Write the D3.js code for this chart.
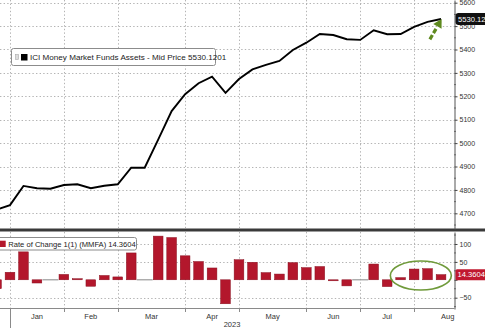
<!DOCTYPE html>
<html>
<head>
<meta charset="utf-8">
<script src="https://cdn.jsdelivr.net/npm/d3@7"></script>
<style>
  html, body { margin: 0; padding: 0; background: #fff; overflow: hidden; }
  svg { display: block; font-family: "Liberation Sans", Arial, sans-serif; }
</style>
</head>
<body>
<svg id="chart" width="485" height="328"></svg>
<script>
// Weekly observation dates (Wednesdays)
const weeks = [
  "2022-12-28",
  "2023-01-04","2023-01-11","2023-01-18","2023-01-25",
  "2023-02-01","2023-02-08","2023-02-15","2023-02-22",
  "2023-03-01","2023-03-08","2023-03-15","2023-03-22","2023-03-29",
  "2023-04-05","2023-04-12","2023-04-19","2023-04-26",
  "2023-05-03","2023-05-10","2023-05-17","2023-05-24","2023-05-31",
  "2023-06-07","2023-06-14","2023-06-21","2023-06-28",
  "2023-07-05","2023-07-12","2023-07-19","2023-07-26",
  "2023-08-02","2023-08-09","2023-08-16"
];

// ICI money market fund assets, $bn
const assets = [
  4715,
  4735, 4817, 4807, 4805,
  4821, 4824, 4807, 4818,
  4824, 4895, 4895, 5015, 5137,
  5209, 5256, 5284, 5215,
  5274, 5315, 5334, 5351, 5398,
  5429, 5466, 5462, 5444,
  5441, 5482, 5465, 5466,
  5497, 5518, 5530.1201
];

// Week-over-week change, $bn
const rateOfChange = [
  -25,
  21, 78, -9, -1,
  15, 3, -18, 12,
  8, 75, 0.5, 122, 118,
  67, 51, 33, -67,
  56, 49, 20, 16, 48,
  34, 37, -2, -17,
  -1, 44, -19, 6,
  30, 31, 14.3604
];

const assetTicks = [4700, 4800, 4900, 5000, 5100, 5200, 5300, 5400, 5500, 5600];
const rocTicks = [-50, 0, 50, 100];
const monthLabels = ["Jan", "Feb", "Mar", "Apr", "May", "Jun", "Jul", "Aug"];
const yearLabel = "2023";
const seriesName = "ICI Money Market Funds Assets - Mid Price";
const rocName = "Rate of Change 1(1) (MMFA)";

const parse = d3.utcParse("%Y-%m-%d");
const dates = weeks.map(parse);
const lineData = dates.map((d, i) => ({ date: d, value: assets[i] }));
const barData = dates.map((d, i) => ({ date: d, value: rateOfChange[i] }));

const W = 485, H = 328;
const axisX = 454;
const svg = d3.select("#chart");

// Weekly points are evenly spaced along x
const x = d3.scaleUtc()
  .domain([dates[0], dates[dates.length - 1]])
  .range([-3.47, 441.04]);

const yTop = d3.scaleLinear().domain([4633, 5611.5]).range([229, 0]);
const yRoc = d3.scaleLinear().domain([-81.6, 133.5]).range([309, 232]);

// First observation of each month (Jan..Sep, Sep closes the Aug label span)
const monthStarts = d3.range(0, 9).map(m => d3.utcWednesday.ceil(new Date(Date.UTC(2023, m, 1))));

const gridColor = "#b4b4b4";
const gridDash = "1.4,2.2";

// ---------- horizontal grid ----------
svg.append("g").selectAll("line").data(assetTicks).join("line")
  .attr("x1", 0).attr("x2", axisX)
  .attr("y1", d => Math.round(yTop(d)) + 0.5).attr("y2", d => Math.round(yTop(d)) + 0.5)
  .attr("stroke", gridColor).attr("stroke-dasharray", gridDash);

svg.append("g").selectAll("line").data(rocTicks.filter(d => d !== 0)).join("line")
  .attr("x1", 0).attr("x2", axisX)
  .attr("y1", d => Math.round(yRoc(d)) + 0.5).attr("y2", d => Math.round(yRoc(d)) + 0.5)
  .attr("stroke", gridColor).attr("stroke-dasharray", gridDash);

// ---------- vertical month grid (both panels) ----------
const monthGrid = monthStarts.slice(0, 8);
svg.append("g").selectAll("line").data(monthGrid).join("line")
  .attr("x1", d => Math.round(x(d)) + 0.5).attr("x2", d => Math.round(x(d)) + 0.5)
  .attr("y1", 0).attr("y2", 228)
  .attr("stroke", gridColor).attr("stroke-dasharray", gridDash);
svg.append("g").selectAll("line").data(monthGrid).join("line")
  .attr("x1", d => Math.round(x(d)) + 0.5).attr("x2", d => Math.round(x(d)) + 0.5)
  .attr("y1", 232).attr("y2", 308)
  .attr("stroke", gridColor).attr("stroke-dasharray", gridDash);

// ---------- asset line ----------
svg.append("path")
  .datum(lineData)
  .attr("fill", "none")
  .attr("stroke", "#000")
  .attr("stroke-width", 1.9)
  .attr("stroke-linejoin", "miter")
  .attr("d", d3.line().x(d => x(d.date)).y(d => yTop(d.value)));

// ---------- rate of change bars ----------
const barW = 9.7;
const bars = svg.append("g");
bars.selectAll("rect").data(barData.filter(d => Math.abs(d.value) >= 1.5)).join("rect")
  .attr("x", d => x(d.date) - barW / 2)
  .attr("width", barW)
  .attr("y", d => Math.min(yRoc(d.value), yRoc(0)))
  .attr("height", d => Math.max(1, Math.abs(yRoc(d.value) - yRoc(0))))
  .attr("fill", "#b3172c")
  .attr("stroke", "#8a0f1f")
  .attr("stroke-width", 0.5);
// near-zero weeks show as a flat grey stroke at the baseline
bars.selectAll("line").data(barData.filter(d => Math.abs(d.value) < 1.5)).join("line")
  .attr("x1", d => x(d.date) - 8).attr("x2", d => x(d.date) + 8)
  .attr("y1", yRoc(0)).attr("y2", yRoc(0))
  .attr("stroke", "#9a9a9a").attr("stroke-width", 1.2);

// ---------- panel separator ----------
svg.append("rect").attr("x", 0).attr("y", 228.5).attr("width", W).attr("height", 3)
  .attr("fill", "#3a3a3a");

// ---------- right axes ----------
const axisTop = svg.append("g")
  .attr("transform", `translate(${axisX + 0.5},0)`)
  .call(d3.axisRight(yTop).tickValues(assetTicks).tickFormat(d3.format("d")).tickSize(3).tickSizeOuter(0).tickPadding(2));
// the zero label sits under the last-value tag, so only its tick mark is drawn
const axisBot = svg.append("g")
  .attr("transform", `translate(${axisX + 0.5},0)`)
  .call(d3.axisRight(yRoc).tickValues(rocTicks).tickFormat(d => d === 0 ? "" : d3.format("d")(d)).tickSize(3).tickSizeOuter(0).tickPadding(2));
[axisTop, axisBot].forEach(g => {
  g.select(".domain").attr("stroke", "#555");
  g.selectAll(".tick line").attr("stroke", "#444");
  g.selectAll(".tick text").attr("font-size", 7).attr("fill", "#333")
    .attr("font-family", "'Liberation Sans', Arial, sans-serif");
});
// minor ticks
svg.append("g").selectAll("line").data(d3.range(4650, 5650, 100)).join("line")
  .attr("x1", axisX).attr("x2", axisX + 2)
  .attr("y1", d => yTop(d)).attr("y2", d => yTop(d))
  .attr("stroke", "#666");
svg.append("g").selectAll("line").data([-75, -25, 25, 75, 125]).join("line")
  .attr("x1", axisX).attr("x2", axisX + 2)
  .attr("y1", d => yRoc(d)).attr("y2", d => yRoc(d))
  .attr("stroke", "#666");

// ---------- bottom time axis ----------
svg.append("line").attr("x1", 0).attr("x2", axisX + 0.5).attr("y1", 308.5).attr("y2", 308.5)
  .attr("stroke", "#8a8a8a");
svg.append("g").selectAll("line").data(monthGrid).join("line")
  .attr("x1", d => Math.round(x(d)) + 0.5).attr("x2", d => Math.round(x(d)) + 0.5)
  .attr("y1", 308.5).attr("y2", (d, i) => i === 0 ? 328 : 312)
  .attr("stroke", "#8a8a8a");
svg.append("g").selectAll("text").data(monthLabels).join("text")
  .attr("x", (d, i) => (x(monthStarts[i]) + x(monthStarts[i + 1])) / 2)
  .attr("y", 318.5)
  .attr("text-anchor", "middle")
  .attr("font-size", 7.5).attr("fill", "#333")
  .text(d => d);
svg.append("text")
  .attr("x", (x(monthStarts[0]) + axisX) / 2).attr("y", 326.5)
  .attr("text-anchor", "middle").attr("font-size", 7.5).attr("fill", "#333")
  .text(yearLabel);

// ---------- legends ----------
const lastA = assets[assets.length - 1];
const lastR = rateOfChange[rateOfChange.length - 1];

const legTop = svg.append("g");
legTop.append("rect").attr("x", 11.5).attr("y", 48.5).attr("width", 204).attr("height", 17)
  .attr("rx", 2).attr("fill", "#fff").attr("stroke", "#8c8c8c");
legTop.append("rect").attr("x", 15.5).attr("y", 54.5).attr("width", 3).attr("height", 5)
  .attr("fill", "#ddd").attr("stroke", "#aaa").attr("stroke-width", 0.6);
legTop.append("rect").attr("x", 21).attr("y", 54).attr("width", 6.5).attr("height", 6.5).attr("fill", "#000");
legTop.append("text").attr("x", 30).attr("y", 60.2).attr("font-size", 8.1).attr("fill", "#222")
  .text(`${seriesName} ${d3.format(".4f")(lastA)}`);

const legBot = svg.append("g");
legBot.append("rect").attr("x", -2).attr("y", 237.5).attr("width", 138.5).attr("height", 12.5)
  .attr("rx", 2).attr("fill", "#fff").attr("stroke", "#8c8c8c");
legBot.append("rect").attr("x", 0).attr("y", 240.7).attr("width", 5.7).attr("height", 6.3).attr("fill", "#b3172c");
legBot.append("text").attr("x", 8.3).attr("y", 246.6).attr("font-size", 7.6).attr("fill", "#222")
  .text(`${rocName} ${d3.format(".4f")(lastR)}`);

// ---------- last-value tags ----------
const tagA = yTop(lastA);
svg.append("rect").attr("x", 455.5).attr("y", tagA - 6).attr("width", 40).attr("height", 12)
  .attr("rx", 3).attr("fill", "#111");
svg.append("text").attr("x", 458).attr("y", tagA + 2.6).attr("font-size", 7.6).attr("fill", "#fff")
  .text(d3.format(".4f")(lastA));

const tagR = yRoc(lastR);
svg.append("rect").attr("x", 455.5).attr("y", tagR - 5.5).attr("width", 40).attr("height", 11)
  .attr("rx", 1.5).attr("fill", "#c0182f");
svg.append("text").attr("x", 457.5).attr("y", tagR + 2.6).attr("font-size", 7.6).attr("fill", "#fff")
  .text(d3.format(".4f")(lastR));

// ---------- annotations ----------
const green = "#5f8a1f";
const tip = [x(dates[dates.length - 1]) + 0.6, yTop(lastA)];
const u = [0.5, -0.866];
const nrm = [-u[1], u[0]];
const headLen = 8.5, headHalf = 4.8;
const base = [tip[0] - headLen * u[0], tip[1] - headLen * u[1]];
svg.append("path")
  .attr("d", `M${tip[0]},${tip[1]}L${base[0] + headHalf * nrm[0]},${base[1] + headHalf * nrm[1]}L${base[0] - headHalf * nrm[0]},${base[1] - headHalf * nrm[1]}Z`)
  .attr("fill", green);
svg.append("line")
  .attr("x1", base[0] - 15 * u[0]).attr("y1", base[1] - 15 * u[1])
  .attr("x2", base[0] - 1 * u[0]).attr("y2", base[1] - 1 * u[1])
  .attr("stroke", green).attr("stroke-width", 3.2).attr("stroke-dasharray", "5,2.2");

svg.append("ellipse")
  .attr("cx", (x(dates[30]) + x(dates[33])) / 2)
  .attr("cy", yRoc(12))
  .attr("rx", 30.5).attr("ry", 14.5)
  .attr("fill", "none").attr("stroke", "#6f9a3a").attr("stroke-width", 1.6);
</script>
</body>
</html>
